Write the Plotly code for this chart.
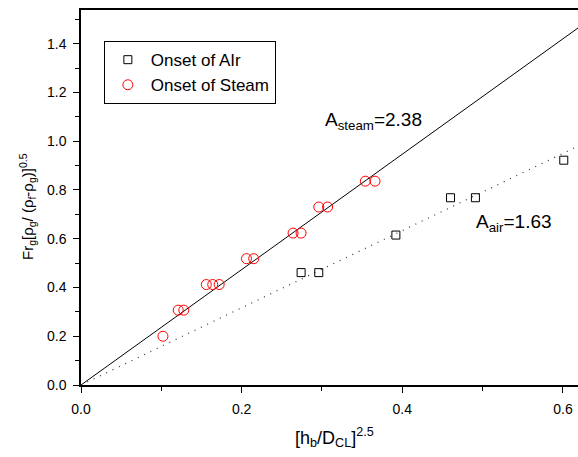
import plotly.graph_objects as go

# Data
steam_x = [0.102, 0.121, 0.128, 0.156, 0.164, 0.172, 0.206, 0.215, 0.264, 0.274, 0.296, 0.307, 0.354, 0.366]
steam_y = [0.20, 0.307, 0.307, 0.412, 0.412, 0.412, 0.518, 0.518, 0.623, 0.623, 0.730, 0.730, 0.836, 0.836]

air_x = [0.274, 0.296, 0.392, 0.460, 0.491, 0.601]
air_y = [0.461, 0.461, 0.615, 0.768, 0.768, 0.922]

fit_x = [0.0, 0.66]
steam_fit = [0.0, 1.562]
air_fit = [0.0, 1.045]

x_ticks = [0.0, 0.2, 0.4, 0.6]
y_ticks = [0.0, 0.2, 0.4, 0.6, 0.8, 1.0, 1.2, 1.4]

FONT = "Liberation Sans, Arial, sans-serif"

W, H = 578, 457
L, T = 81, 10
PW, PH = 497, 375

fig = go.Figure()
fig.add_trace(go.Scatter(x=fit_x, y=steam_fit, mode="lines",
                         line=dict(color="black", width=1), showlegend=False))
fig.add_trace(go.Scatter(x=fit_x, y=air_fit, mode="lines",
                         line=dict(color="#333333", width=1.2, dash="1px,6px"), showlegend=False))
fig.add_trace(go.Scatter(x=air_x, y=air_y, mode="markers", name="Onset of AIr", cliponaxis=False,
                         marker=dict(symbol="square-open", size=8, color="black",
                                     line=dict(width=1, color="black"))))
fig.add_trace(go.Scatter(x=steam_x, y=steam_y, mode="markers", name="Onset of Steam",
                         marker=dict(symbol="circle-open", size=10, color="red",
                                     line=dict(width=1, color="red"))))

fig.update_layout(
    width=W, height=H,
    margin=dict(l=L, r=W - L - PW, t=T, b=H - T - PH, autoexpand=False, pad=0),
    plot_bgcolor="white", paper_bgcolor="white",
    font=dict(family=FONT, size=14, color="black"),
    legend=dict(x=0.046, y=0.917, xanchor="left", yanchor="top",
                bordercolor="black", borderwidth=1, bgcolor="white",
                font=dict(size=17, family=FONT), tracegroupgap=0,
                itemwidth=36),
    xaxis=dict(range=[0, 0.6187], tickvals=x_ticks, ticktext=[f"{v:.1f}" for v in x_ticks],
               automargin=False, ticklabeloverflow="allow",
               showgrid=False, zeroline=False, showline=True, linecolor="black", linewidth=1.5,
               mirror=True, ticks="outside", ticklen=6, tickwidth=1.2, tickcolor="black",
               minor=dict(tickvals=[0.1, 0.3, 0.5], ticks="outside", ticklen=4, tickwidth=1.2,
                          tickcolor="black"),
               tickfont=dict(size=14), ticklabelstandoff=4),
    yaxis=dict(range=[0, 1.538], tickvals=y_ticks, ticktext=[f"{v:.1f}" for v in y_ticks],
               automargin=False,
               showgrid=False, zeroline=False, showline=True, linecolor="black", linewidth=1.5,
               ticks="outside", ticklen=6, tickwidth=1.2, tickcolor="black",
               minor=dict(tickvals=[0.1, 0.3, 0.5, 0.7, 0.9, 1.1, 1.3, 1.5], ticks="outside",
                          ticklen=4, tickwidth=1.2, tickcolor="black"),
               tickfont=dict(size=14), ticklabelstandoff=4),
)

fig.add_annotation(x=0.301, y=1.083, xref="x", yref="y", xanchor="left", yanchor="middle",
                   text="A<sub>steam</sub>=2.38", showarrow=False,
                   font=dict(size=19, family=FONT, color="black"))
fig.add_annotation(x=0.489, y=0.664, xref="x", yref="y", xanchor="left", yanchor="middle",
                   text="A<sub>air</sub>=1.63", showarrow=False,
                   font=dict(size=19, family=FONT, color="black"))
fig.add_annotation(x=(334 - 81) / PW, y=-(437 - 385) / PH, xref="paper", yref="paper",
                   xanchor="center", yanchor="middle",
                   text="[h<sub>b</sub>/D<sub>CL</sub>]<sup>2.5</sup>", showarrow=False,
                   font=dict(size=18, family=FONT, color="black"))
fig.add_annotation(x=-(81 - 27) / PW, y=(385 - 207) / PH, xref="paper", yref="paper",
                   xanchor="center", yanchor="middle", textangle=-90,
                   text="Fr<sub>g</sub>[ρ<sub>g</sub>/ (ρ<sub>f</sub>-ρ<sub>g</sub>)]<sup>0.5</sup>",
                   showarrow=False, font=dict(size=15, family=FONT, color="black"))

fig.write_html("out.html", config={"displayModeBar": False},
               post_script="document.body.style.margin='0px';document.body.style.overflow='hidden';")
